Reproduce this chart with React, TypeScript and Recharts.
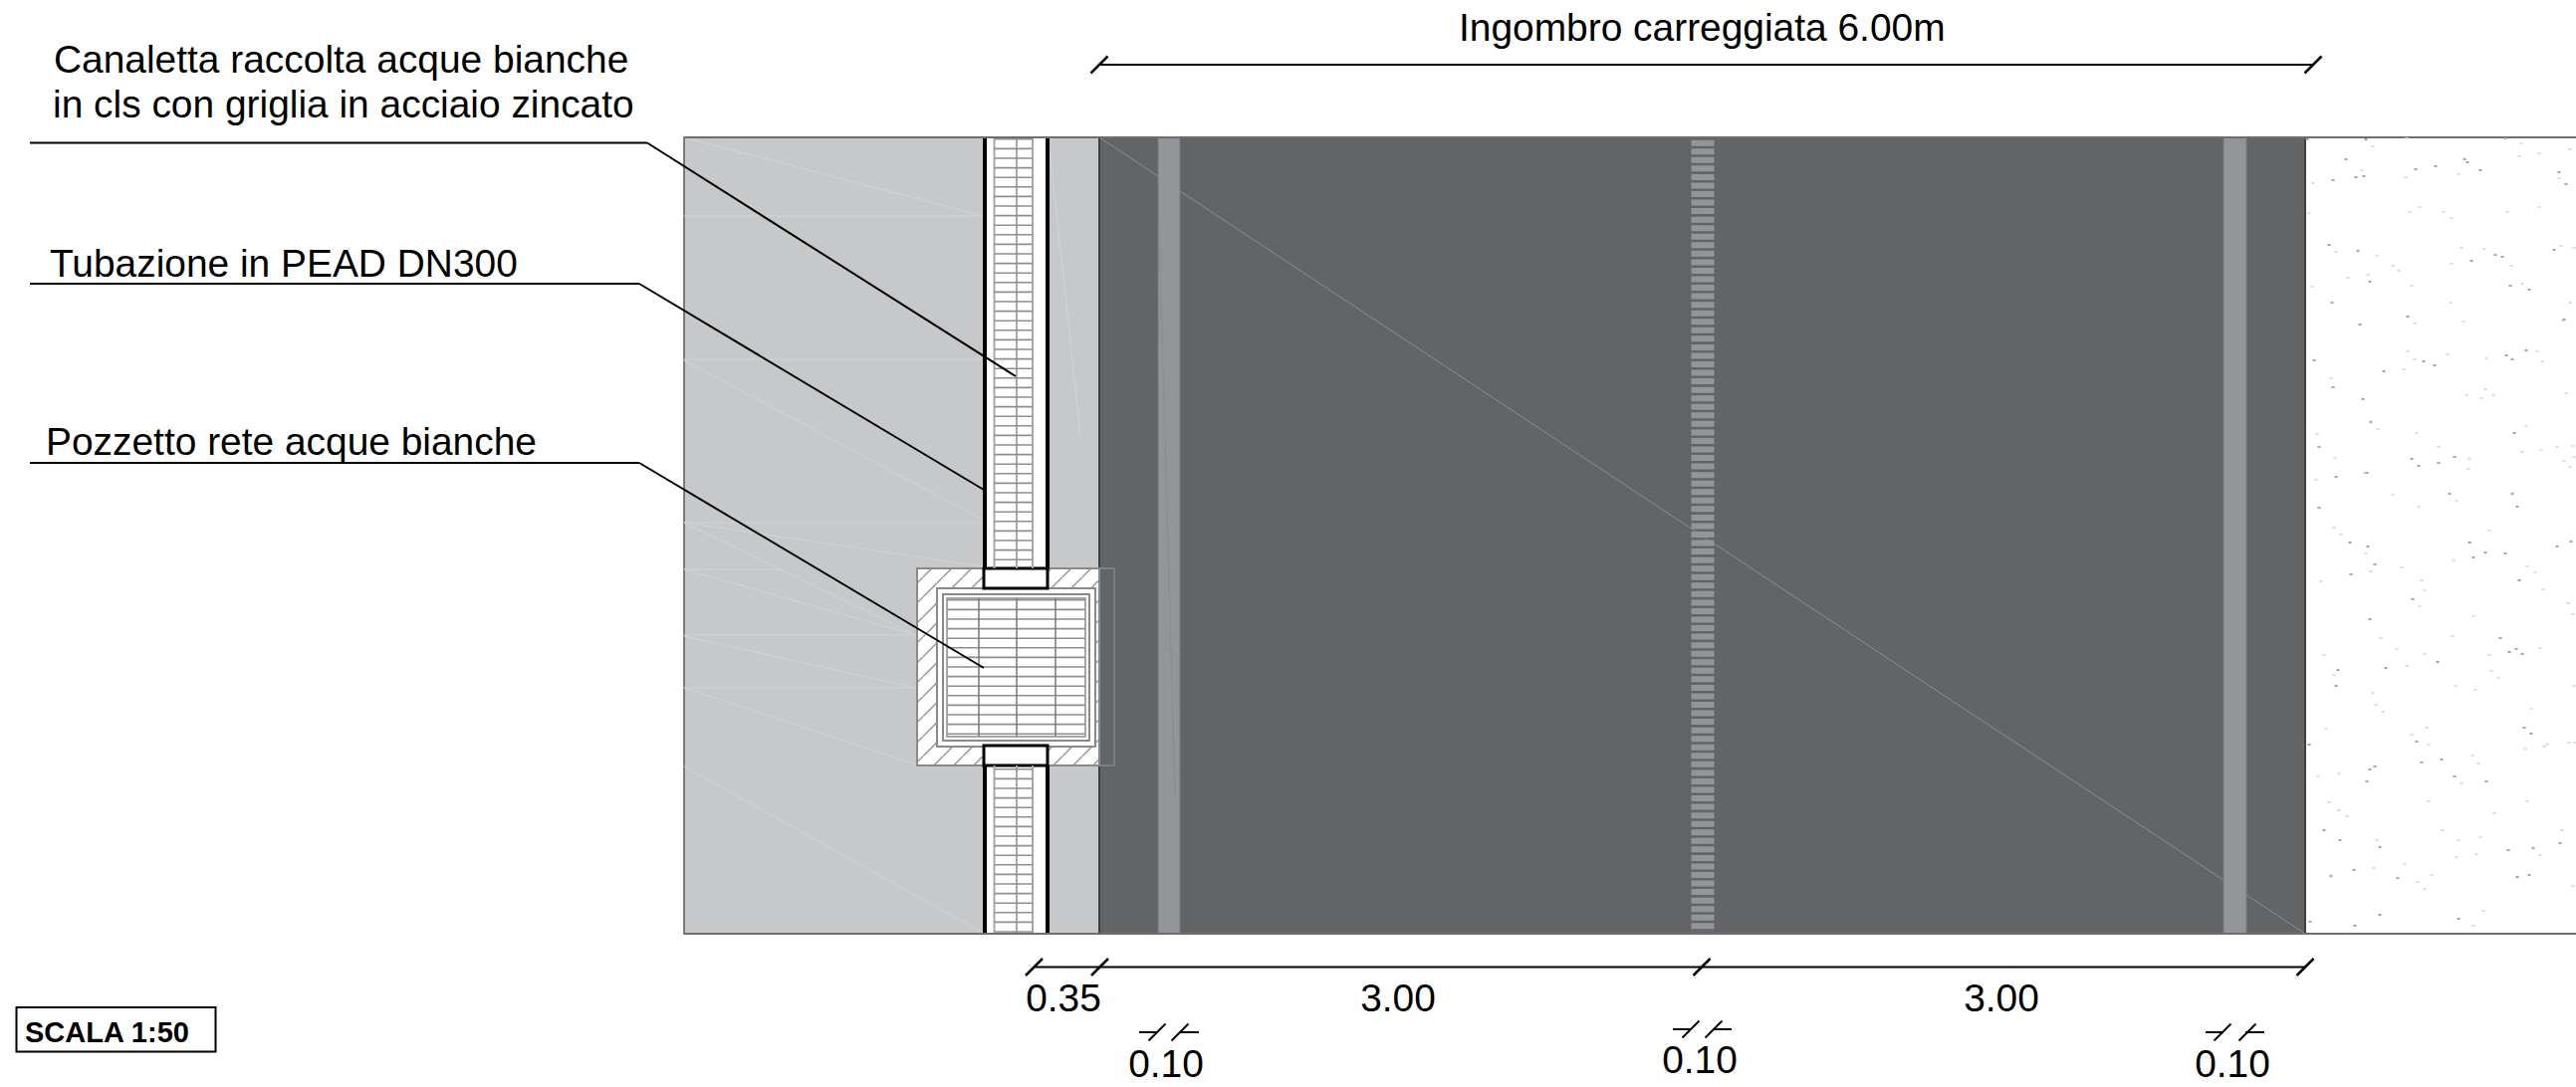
import React from 'react';
import {ScatterChart, XAxis, YAxis, Scatter, ReferenceArea, ReferenceLine} from 'recharts';

// everything is in sheet units (1 unit = 1px of the drawing), x to the right, y downwards
const sheetWidth = 2587;
const sheetHeight = 1092;

type Seg = [number, number, number, number];
type Box = [number, number, number, number, string, string, number];

const FONT = '"Liberation Sans", Arial, sans-serif';
const GREY_AREA = '#c7c8ca';
const ROAD = '#636466';
const STRIPE = '#949598';
const HAIR = '#d3d4d5';
const FRAME = '#8a8a8a';
const RUNG = '#8f8f8f';

// x1, x2, y1, y2, fill, stroke, stroke width
const pavementBoxes: Box[] = [
    [687, 1104, 138, 938, GREY_AREA, '#58595b', 1.5],
    [1104, 2315, 138, 938, ROAD, '#3f4042', 2],
    [1163, 1185, 138, 938, STRIPE, '#77787b', 1],
    [2233, 2256, 138, 938, STRIPE, '#77787b', 1],
    [988, 1052, 138, 938, '#ffffff', 'none', 0],
];

const wellBoxes: Box[] = [
    [921, 1104, 571, 769, 'url(#wellHatch)', FRAME, 2],
    [941, 1100, 591, 750, '#ffffff', FRAME, 2],
    [947, 1094, 597, 744, '#ffffff', FRAME, 2],
    [951, 1090, 601, 740, '#ffffff', FRAME, 1.5],
    [988, 1052, 571, 591, '#ffffff', '#000000', 3],
    [988, 1052, 749, 769, '#ffffff', '#000000', 3],
];

const hairlines: Seg[] = [
    [687, 138, 987, 217],
    [687, 217, 987, 217],
    [687, 361, 987, 361],
    [687, 362, 987, 522],
    [687, 525, 987, 525],
    [687, 525, 987, 569],
    [687, 525, 920, 638],
    [687, 572, 783, 572],
    [687, 572, 920, 638],
    [687, 638, 920, 638],
    [687, 639, 920, 691],
    [687, 691, 920, 691],
    [687, 691, 920, 768],
    [687, 770, 987, 937],
    [1054, 150, 1085, 435],
];

const roadDiagonal: Seg[] = [
    [1104, 138, 1163, 177],
    [1185, 192, 2233, 884],
    [2256, 899, 2315, 938],
];
const stripeMarks: Seg[] = [
    [1164, 227, 1180, 800],
];

const ghostOutline: Seg[] = [
    [1104, 571, 1119, 571],
    [1119, 571, 1119, 769],
    [1104, 769, 1119, 769],
];

const sheetEdges: Seg[] = [
    [687, 138, 2587, 138],
    [687, 938, 2587, 938],
];

const channelRails: Seg[] = [
    [998.5, 138, 998.5, 571],
    [1037, 138, 1037, 571],
    [1021, 138, 1021, 571],
    [998.5, 769, 998.5, 938],
    [1037, 769, 1037, 938],
    [1021, 769, 1021, 938],
];
const channelWalls: Seg[] = [
    [989, 138, 989, 571],
    [1052, 138, 1052, 571],
    [989, 769, 989, 938],
    [1052, 769, 1052, 938],
];
const gratingBars: Seg[] = [
    [983, 601, 983, 740],
    [1021, 601, 1021, 740],
    [1060, 601, 1060, 740],
];

const leaders: Seg[] = [
    [30, 143.5, 650, 143.5],
    [650, 143.5, 1020, 378],
    [30, 285, 642, 285],
    [642, 285, 988, 492],
    [30, 465, 642, 465],
    [642, 465, 988, 671],
];

const dimensionLines: Seg[] = [
    [1104, 65, 2323, 65],
    [1038, 971.5, 2315, 971.5],
    [1144, 1037, 1162, 1037],
    [1185, 1037, 1204, 1037],
    [1680, 1034, 1698, 1034],
    [1721, 1034, 1739, 1034],
    [2215, 1037, 2233, 1037],
    [2255, 1037, 2274, 1037],
];
// centre of each slanted dimension tick
const bigTicks = [[1104, 65], [2323, 65], [1038.5, 971.5], [1104.5, 971.5], [1709, 971.5], [2315, 971.5]];
const smallTicks = [[1162, 1037], [1185, 1037], [1698, 1034], [1721, 1034], [2232, 1037], [2257, 1037]];

const startLabels = [
    {x: 1465, y: 41, label: 'Ingombro carreggiata 6.00m'},
    {x: 54, y: 73, label: 'Canaletta raccolta acque bianche'},
    {x: 53, y: 118, label: 'in cls con griglia in acciaio zincato'},
    {x: 50, y: 278, label: 'Tubazione in PEAD DN300'},
    {x: 46, y: 457, label: 'Pozzetto rete acque bianche'},
];
const dimensionLabels = [
    {x: 1068, y: 1016, label: '0.35'},
    {x: 1404, y: 1016, label: '3.00'},
    {x: 2010, y: 1016, label: '3.00'},
    {x: 1171, y: 1082, label: '0.10'},
    {x: 1707, y: 1078, label: '0.10'},
    {x: 2242, y: 1082, label: '0.10'},
];
const scaleLabel = [{x: 25, y: 1047, label: 'SCALA 1:50'}];

// gravel dots on the verge
const darkDots = [
    [2317,140],[2376,140],[2516,139],[2356,160],[2475,160],[2478,163],[2426,170],[2446,167],[2491,171],[2570,173],
    [2577,185],[2366,178],[2374,177],[2343,181],[2339,246],[2368,252],[2506,256],[2513,258],[2482,262],[2565,251],
    [2540,291],[2521,287],[2380,283],[2342,304],[2418,318],[2575,321],[2370,326],[2517,357],[2523,361],[2537,352],
    [2434,363],[2445,367],[2394,373],[2343,389],[2324,362],
    [2373,401],[2381,424],[2525,435],[2329,449],[2465,459],[2422,461],[2429,468],[2449,465],[2377,475],[2346,479],
    [2460,496],[2523,496],[2329,510],[2528,509],[2360,545],[2378,549],[2480,545],[2496,555],[2516,556],[2484,560],
    [2568,549],[2582,544],[2385,567],[2361,577],[2530,583],[2423,602],[2380,622],[2511,641],[2520,655],[2527,652],
    [2533,657],[2448,665],[2396,671],[2348,673],
    [2346,689],[2319,748],[2427,745],[2535,731],[2542,737],[2452,763],[2432,766],[2385,770],[2380,773],[2465,780],
    [2377,785],[2497,785],[2334,834],[2350,844],[2390,851],[2571,847],[2544,852],[2519,854],[2364,874],[2341,880],
    [2408,882],[2528,881],[2540,879],[2390,919],[2320,926],[2469,923],[2365,930],
].map(([x, y]) => ({x, y}));

const lightDots = [
    [2417,139],[2383,147],[2532,144],[2581,150],[2550,154],[2530,157],[2372,171],[2416,178],[2469,175],[2570,179],
    [2323,184],[2319,214],[2430,208],[2420,213],[2454,213],[2462,219],[2518,213],[2550,208],[2346,253],[2387,257],
    [2472,249],[2495,250],[2572,247],[2585,249],[2403,267],[2409,272],[2462,265],[2522,267],[2378,276],[2358,279],
    [2422,287],[2322,288],[2533,285],[2461,304],[2581,304],[2574,322],[2425,325],[2474,323],[2418,353],[2458,356],
    [2497,360],[2548,353],[2553,363],[2425,361],[2414,371],[2341,380],[2477,397],[2496,391],[2504,397],[2577,395],
    [2492,400],[2388,431],[2427,435],[2537,428],[2327,436],[2449,449],[2345,460],[2480,461],[2533,454],[2552,452],
    [2568,449],[2584,448],[2585,459],[2575,463],[2581,469],[2479,471],[2375,475],[2326,482],[2403,497],[2467,503],
    [2429,509],[2344,530],[2351,537],[2500,533],[2481,545],[2376,556],[2464,563],[2412,570],[2381,574],[2538,569],
    [2546,575],[2331,584],[2432,583],[2435,593],[2554,592],[2430,609],[2579,606],[2584,617],[2484,619],[2391,641],
    [2463,639],[2407,652],[2435,657],[2334,658],[2500,658],[2551,651],[2417,669],[2502,674],[2344,678],
    [2466,689],[2509,681],[2383,696],[2486,693],[2585,689],[2386,708],[2393,715],[2542,712],[2336,732],[2437,731],
    [2422,738],[2439,748],[2558,748],[2555,750],[2580,746],[2586,746],[2536,752],[2483,759],[2489,767],[2349,777],
    [2328,780],[2472,787],[2439,805],[2339,806],[2538,805],[2349,814],[2505,817],[2357,820],[2453,834],[2573,834],
    [2387,844],[2469,844],[2491,841],[2487,858],[2551,859],[2467,861],[2415,868],[2384,872],[2442,879],[2428,886],
    [2435,893],[2584,890],[2494,915],[2484,930],
].map(([x, y]) => ({x, y}));

const boxAreas = (boxes: Box[], prefix: string) =>
    boxes.map(([x1, x2, y1, y2, fill, stroke, strokeWidth], i) => (
        <ReferenceArea key={prefix + i} x1={x1} x2={x2} y1={y1} y2={y2} fill={fill} fillOpacity={1}
                       stroke={stroke} strokeWidth={strokeWidth}/>
    ));

const segLines = (segs: Seg[], prefix: string, stroke: string, strokeWidth: number, extra: any = {}) =>
    segs.map(([x1, y1, x2, y2], i) => (
        <ReferenceLine key={prefix + i} segment={[{x: x1, y: y1}, {x: x2, y: y2}]}
                       stroke={stroke} strokeWidth={strokeWidth} {...extra}/>
    ));

const tickSegs = (ticks: number[][], half: number): Seg[] =>
    ticks.map(([x, y]) => [x - half, y + half, x + half, y - half]);

const textShape = (size: number, anchor: string, weight: string) => (props: any) => (
    <text x={props.cx} y={props.cy} fontFamily={FONT} fontSize={size} fontWeight={weight}
          textAnchor={anchor} fill="#000000">{props.payload.label}</text>
);

const dotShape = (fill: string) => (props: any) => (
    <rect x={props.cx - 1.5} y={props.cy - 1} width={3} height={2} fill={fill}/>
);

const App = () => (
    <div style={{position: 'absolute', left: 0, top: 0, background: '#ffffff'}}>
        <ScatterChart width={sheetWidth} height={sheetHeight} margin={{top: 0, right: 0, bottom: 0, left: 0}}>
            <defs>
                <pattern id="wellHatch" patternUnits="userSpaceOnUse" width={20} height={20}
                         patternTransform="translate(6.7,0)">
                    <rect width={20} height={20} fill="#ffffff"/>
                    <path d="M-2,22 L22,-2" stroke="#777777" strokeWidth={1.2}/>
                </pattern>
            </defs>
            <XAxis type="number" dataKey="x" domain={[0, sheetWidth]} hide/>
            <YAxis type="number" dataKey="y" domain={[0, sheetHeight]} reversed hide/>

            {boxAreas(pavementBoxes, 'pave')}
            {boxAreas(wellBoxes, 'well')}
            <ReferenceArea x1={16.5} x2={216.5} y1={1012} y2={1056.5} fill="#ffffff" fillOpacity={1}
                           stroke="#000000" strokeWidth={2}/>

            {segLines(hairlines, 'hair', HAIR, 1)}
            {segLines(roadDiagonal, 'diag', '#8b8c8f', 1)}
            {segLines(stripeMarks, 'mark', '#8b8c8f', 1)}
            {segLines(ghostOutline, 'ghost', '#85868a', 1.5)}
            <ReferenceLine segment={[{x: 1710, y: 140.7}, {x: 1710, y: 936}]} stroke={STRIPE} strokeWidth={23}
                           strokeDasharray="6 2.55"/>

            {segLines(channelRails, 'rail', '#a8a8a8', 2)}
            <ReferenceLine segment={[{x: 1017.8, y: 139}, {x: 1017.8, y: 571}]} stroke={RUNG} strokeWidth={38}
                           strokeDasharray="1.6 8"/>
            <ReferenceLine segment={[{x: 1017.8, y: 772}, {x: 1017.8, y: 938}]} stroke={RUNG} strokeWidth={38}
                           strokeDasharray="1.6 8"/>
            <ReferenceLine segment={[{x: 1020.5, y: 602}, {x: 1020.5, y: 739}]} stroke={RUNG} strokeWidth={138}
                           strokeDasharray="1.6 8"/>
            {segLines(gratingBars, 'bar', '#777777', 1.5)}
            {segLines(channelWalls, 'wall', '#000000', 4)}
            {segLines(sheetEdges, 'edge', '#6d6e71', 2)}

            {segLines(leaders, 'lead', '#000000', 2)}
            {segLines(dimensionLines, 'dim', '#000000', 2)}
            {segLines(tickSegs(bigTicks, 8.5), 'bt', '#000000', 2.5)}
            {segLines(tickSegs(smallTicks, 8.5), 'st', '#000000', 2)}

            <Scatter data={lightDots} fill="#dcdcdc" shape={dotShape('#dcdcdc')} isAnimationActive={false}/>
            <Scatter data={darkDots} fill="#a6a6a6" shape={dotShape('#a6a6a6')} isAnimationActive={false}/>
            <Scatter data={startLabels} shape={textShape(38.9, 'start', 'normal')} isAnimationActive={false}/>
            <Scatter data={dimensionLabels} shape={textShape(38.9, 'middle', 'normal')} isAnimationActive={false}/>
            <Scatter data={scaleLabel} shape={textShape(29, 'start', 'bold')} isAnimationActive={false}/>
        </ScatterChart>
    </div>
);

export default App;
